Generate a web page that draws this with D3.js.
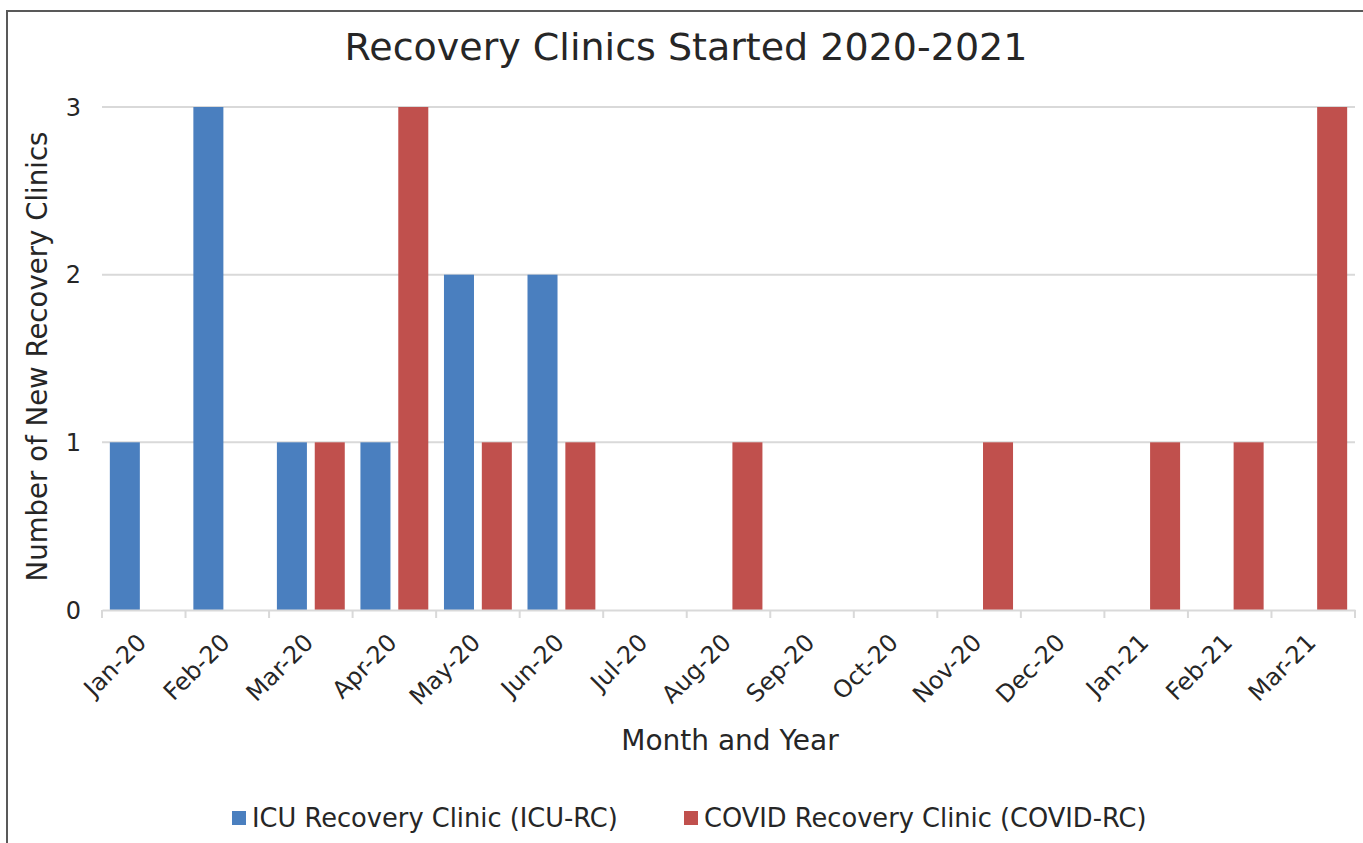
<!doctype html>
<html lang="en">
<head>
	<meta charset="utf-8">
	<title>Recovery Clinics Started 2020-2021</title>
	<script src="https://cdn.jsdelivr.net/npm/d3@7"></script>
	<style>
		body { margin: 0; background: #fff; }
		text { font-family: "DejaVu Sans", Verdana, sans-serif; fill: #262626; }
	</style>
</head>
<body>
	<div id="svg"></div>
	<script>
		var months = ["Jan-20", "Feb-20", "Mar-20", "Apr-20", "May-20", "Jun-20", "Jul-20", "Aug-20",
			"Sep-20", "Oct-20", "Nov-20", "Dec-20", "Jan-21", "Feb-21", "Mar-21"];
		var seriesNames = ["ICU Recovery Clinic (ICU-RC)", "COVID Recovery Clinic (COVID-RC)"];
		var icuValues   = [1, 3, 1, 1, 2, 2, 0, 0, 0, 0, 0, 0, 0, 0, 0];
		var covidValues = [0, 0, 1, 3, 1, 1, 0, 1, 0, 0, 1, 0, 1, 1, 3];
		var yTicks = [0, 1, 2, 3];
		var colors = ["#4a7fbf", "#c0504d"];

		var widthSvg = 1363, heightSvg = 843;
		var plotLeft = 102, plotRight = 1355, plotTop = 107, plotBottom = 610;

		var data = months.map(function(m, i) {
			return { month: m, values: [icuValues[i], covidValues[i]] };
		});

		var svg = d3.select("#svg").append("svg")
			.attr("width", widthSvg).attr("height", heightSvg);

		// outer frame (runs off the right and bottom edges like the source)
		svg.append("rect")
			.attr("x", 7).attr("y", 11)
			.attr("width", 1400).attr("height", 900)
			.attr("fill", "none").attr("stroke", "#595959").attr("stroke-width", 2);

		var x0 = d3.scaleBand().domain(months).range([plotLeft, plotRight]).padding(0);
		var x1 = d3.scaleBand().domain([0, 1]).range([0, x0.bandwidth()]).paddingInner(0.207).paddingOuter(0.207);
		var y = d3.scaleLinear().domain([0, 3]).range([plotBottom, plotTop]);

		// gridlines
		svg.append("g")
			.selectAll("line")
			.data(yTicks.filter(function(d) { return d > 0; }))
			.enter().append("line")
			.attr("x1", plotLeft).attr("x2", plotRight)
			.attr("y1", function(d) { return y(d); })
			.attr("y2", function(d) { return y(d); })
			.attr("stroke", "#d9d9d9").attr("stroke-width", 2);

		// y tick labels
		svg.append("g")
			.selectAll("text")
			.data(yTicks)
			.enter().append("text")
			.attr("x", 81)
			.attr("y", function(d) { return y(d); })
			.attr("dy", "0.36em")
			.attr("text-anchor", "end")
			.style("font-size", "24px")
			.text(function(d) { return d; });

		// bars
		var groups = svg.append("g")
			.selectAll("g")
			.data(data)
			.enter().append("g")
			.attr("transform", function(d) { return "translate(" + x0(d.month) + ",0)"; });

		groups.selectAll("rect")
			.data(function(d) { return d.values.map(function(v, k) { return { k: k, v: v }; }); })
			.enter().filter(function(d) { return d.v > 0; })
			.append("rect")
			.attr("x", function(d) { return x1(d.k); })
			.attr("y", function(d) { return y(d.v); })
			.attr("width", x1.bandwidth())
			.attr("height", function(d) { return plotBottom - y(d.v); })
			.attr("fill", function(d) { return colors[d.k]; });

		// x axis
		var xAxis = svg.append("g")
			.attr("transform", "translate(0," + plotBottom + ")")
			.call(d3.axisBottom(x0).tickSize(0).tickFormat(""));
		xAxis.select(".domain").attr("stroke", "#d9d9d9").attr("stroke-width", 2);

		var tickPos = months.map(function(m) { return x0(m); }).concat([plotRight]);
		xAxis.selectAll(".tickmark")
			.data(tickPos)
			.enter().append("line")
			.attr("x1", function(d) { return d; }).attr("x2", function(d) { return d; })
			.attr("y1", 0).attr("y2", 8)
			.attr("stroke", "#d9d9d9").attr("stroke-width", 2);

		svg.append("g")
			.selectAll("text")
			.data(months)
			.enter().append("text")
			.attr("transform", function(d) {
				return "translate(" + (x0(d) + x0.bandwidth() / 2 + 4) + "," + (plotBottom + 34) + ") rotate(-45)";
			})
			.attr("text-anchor", "end")
			.style("font-size", "24px")
			.text(function(d) { return d; });

		// titles
		svg.append("text")
			.attr("x", 686).attr("y", 60)
			.attr("text-anchor", "middle")
			.style("font-size", "38px")
			.text("Recovery Clinics Started 2020-2021");

		svg.append("text")
			.attr("x", 730).attr("y", 750)
			.attr("text-anchor", "middle")
			.style("font-size", "28px")
			.text("Month and Year");

		svg.append("text")
			.attr("transform", "translate(47," + ((plotTop + plotBottom) / 2 - 2) + ") rotate(-90)")
			.attr("text-anchor", "middle")
			.style("font-size", "27.6px")
			.text("Number of New Recovery Clinics");

		// legend
		var legendX = [232, 684];
		var legend = svg.append("g")
			.selectAll("g")
			.data(seriesNames)
			.enter().append("g")
			.attr("transform", function(d, i) { return "translate(" + legendX[i] + ",811)"; });
		legend.append("rect")
			.attr("width", 14).attr("height", 14)
			.attr("fill", function(d, i) { return colors[i]; });
		legend.append("text")
			.attr("x", 20).attr("y", 16)
			.style("font-size", "25.7px")
			.text(function(d) { return d; });
	</script>
</body>
</html>
